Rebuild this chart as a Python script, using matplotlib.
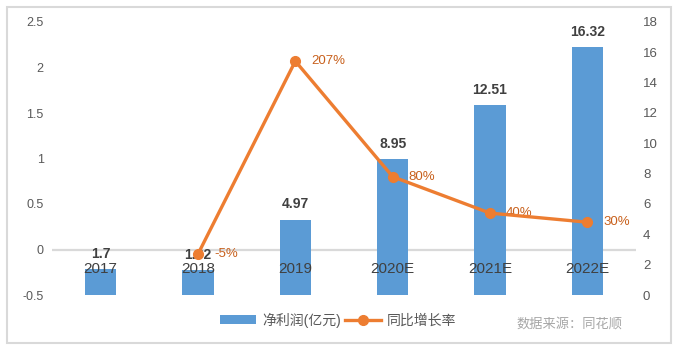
import matplotlib
matplotlib.use("Agg")
import matplotlib.pyplot as plt
from matplotlib.patches import Rectangle
from matplotlib.lines import Line2D
from matplotlib.patches import Patch

plt.rcParams['font.family'] = ['Liberation Sans', 'Noto Sans CJK SC', 'DejaVu Sans']

categories = ['2017', '2018', '2019', '2020E', '2021E', '2022E']
net_profit = [1.7, 1.62, 4.97, 8.95, 12.51, 16.32]
growth = [None, -0.05, 2.07, 0.80, 0.40, 0.30]
growth_labels = ['', '-5%', '207%', '80%', '40%', '30%']
left_ticks = [-0.5, 0, 0.5, 1, 1.5, 2, 2.5]
left_tick_labels = ['-0.5', '0', '0.5', '1', '1.5', '2', '2.5']
right_ticks = [0, 2, 4, 6, 8, 10, 12, 14, 16, 18]

BLUE = '#5B9BD5'
ORANGE = '#ED7D31'
LABEL_ORANGE = '#C8601C'
TICK = '#595959'

fig = plt.figure(figsize=(6.82, 3.52), dpi=100)
ax1 = fig.add_axes([52/682, 1-295/352, (636-52)/682, (295-22)/352])
ax2 = ax1.twinx()

x = list(range(len(categories)))

# bars on right axis
ax2.bar(x, net_profit, width=0.32, color=BLUE, zorder=2)
ax2.set_ylim(0, 18)
ax2.set_yticks(right_ticks)
ax2.set_yticklabels([str(t) for t in right_ticks])
for xi, v in zip(x, net_profit):
    ax2.annotate(f'{v:g}', (xi, v), xytext=(0, 6), textcoords='offset points',
                 ha='center', va='bottom', fontsize=10, fontweight='bold', color='#404040')

# left axis: zero line + growth line
ax1.set_xlim(-0.5, len(categories) - 0.5)
ax1.set_ylim(-0.5, 2.5)
ax1.set_yticks(left_ticks)
ax1.set_yticklabels(left_tick_labels)
ax1.axhline(0, color='#D9D9D9', lw=1.6, zorder=1)
ax1.set_xticks([])

gx = [xi for xi, g in zip(x, growth) if g is not None]
gy = [g for g in growth if g is not None]

# overlay axis sharing the left scale so the line sits above the bars
ax3 = fig.add_axes(ax1.get_position(), sharex=ax1, sharey=ax1)
ax3.set_facecolor('none')
ax3.axis('off')
ax3.plot(gx, gy, color=ORANGE, lw=2.4, marker='o', markersize=7, zorder=5)
for xi, g, lab in zip(x, growth, growth_labels):
    if g is None:
        continue
    ax3.annotate(lab, (xi, g), xytext=(11.5, 0), textcoords='offset points',
                 ha='left', va='center', fontsize=9.5, color=LABEL_ORANGE)

# category labels at zero line
for xi, c in zip(x, categories):
    ax3.annotate(c, (xi, 0), xytext=(0, -9), textcoords='offset points',
                 ha='center', va='top', fontsize=11, color='#404040', zorder=6)

for ax in (ax1, ax2):
    for s in ax.spines.values():
        s.set_visible(False)
    ax.tick_params(length=0, labelsize=9, labelcolor=TICK)
ax1.tick_params(axis='y', pad=6)
ax2.tick_params(axis='y', pad=5, labelsize=9.5)

# legend
handles = [Patch(facecolor=BLUE, edgecolor='none'),
           Line2D([0], [0], color=ORANGE, lw=2.4, marker='o', markersize=7)]
fig.legend(handles, ['净利润(亿元)', '同比增长率'], loc='center',
           bbox_to_anchor=(338/682, 1-320/352), ncol=2, frameon=False,
           fontsize=10, labelcolor=TICK, handlelength=2.6, handleheight=0.6,
           handletextpad=0.4, columnspacing=0.3)

fig.text(516/682, 1-324/352, '数据来源：同花顺', ha='left', va='center',
         fontsize=9.5, color='#A6A6A6')

# outer border
fig.add_artist(Rectangle((7/682, 1-343/352), (671-7)/682, (343-7)/352,
                         transform=fig.transFigure, fill=False,
                         edgecolor='#D9D9D9', lw=1.5))

fig.savefig('out.png', dpi=100)
